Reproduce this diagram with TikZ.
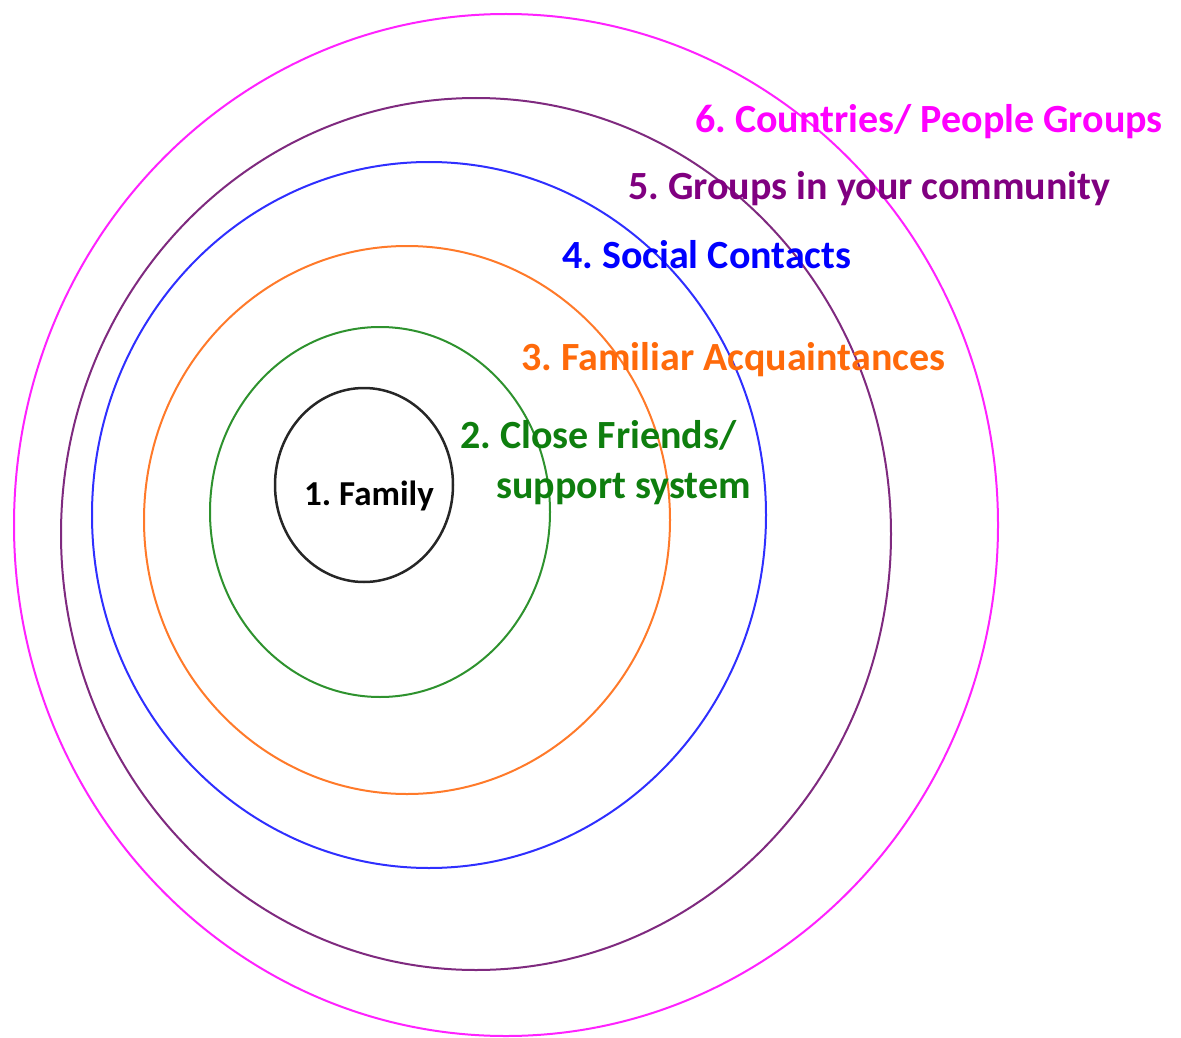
\documentclass[tikz,border=0pt]{standalone}
\usepackage{fontspec}
\setmainfont{Carlito}
\usepackage{xcolor}
\usepackage{tikz}
\usetikzlibrary{positioning}
\definecolor{ring-magenta}{HTML}{FF22FF}
\definecolor{ring-purple}{HTML}{7F2A7F}
\definecolor{ring-blue}{HTML}{2F2FFF}
\definecolor{ring-orange}{HTML}{FF7A2A}
\definecolor{ring-green}{HTML}{2E922E}
\definecolor{txt-magenta}{HTML}{FF00FF}
\definecolor{txt-purple}{HTML}{800080}
\definecolor{txt-blue}{HTML}{0000FF}
\definecolor{txt-orange}{HTML}{FF6A0A}
\definecolor{txt-green}{HTML}{0E7E0E}
\frenchspacing

\begin{document}
\begin{tikzpicture}[
    x=1pt, y=-1pt,
    ring/.style={line width=2pt},
    lbl/.style={anchor=base west, inner sep=0pt, font=\bfseries\fontsize{40}{50}\selectfont}
]
  \useasboundingbox (0,0) rectangle (1181,1038);

  % Rings
  \draw[ring, ring-magenta] (506,525) ellipse [x radius=492pt, y radius=511pt];
  \draw[ring, ring-purple] (476,534) ellipse [x radius=415pt, y radius=436pt];
  \draw[ring, ring-blue] (429,515) ellipse [x radius=337pt, y radius=353pt];
  \draw[ring, ring-orange] (407,520) ellipse [x radius=263pt, y radius=274pt];
  \draw[ring, ring-green] (380,512) ellipse [x radius=170pt, y radius=185pt];
  \draw[ring, black!85, line width=2.5pt] (364,485) ellipse [x radius=89pt, y radius=97pt];

  % Labels
  \node[lbl, txt-magenta] (countries) at (695,133) {6. Countries/ People Groups};
  \node[lbl, txt-purple] (groups) at (628,200) {5. Groups in your community};
  \node[lbl, txt-blue] (social) at (562,268) {4. Social Contacts};
  \node[lbl, txt-orange] (familiar) at (521,370) {3. Familiar Acquaintances};
  \node[lbl, txt-green, align=left] (friends) at (460,498) {2. Close Friends/\\\hspace*{36pt}support system};
  \node[lbl, black, font=\bfseries\fontsize{35}{40}\selectfont] (family) at (304,505) {1. Family};

\end{tikzpicture}
\end{document}
